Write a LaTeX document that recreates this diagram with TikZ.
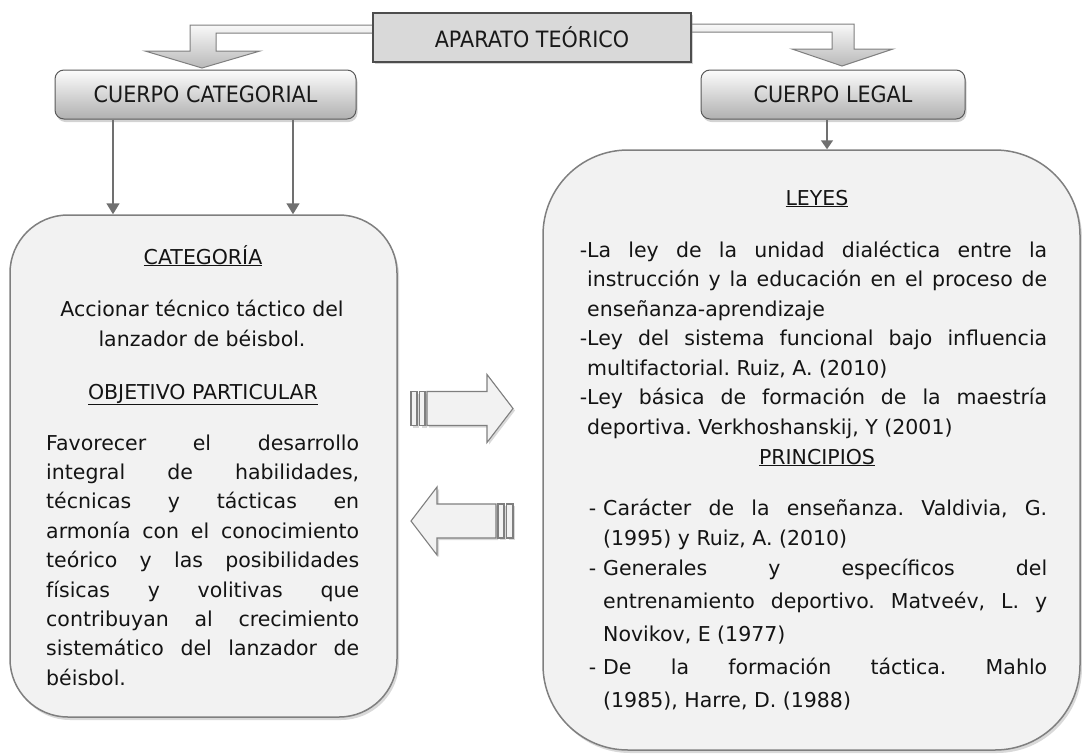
\documentclass[tikz,border=0pt]{standalone}
\usepackage{fontspec}
\setmainfont{DejaVu Sans}
\newfontfamily\titlefont[FakeStretch=0.92]{DejaVu Sans}
\usetikzlibrary{shadows,arrows.meta,calc}
\frenchspacing
\definecolor{boxfill}{HTML}{F2F2F2}
\definecolor{boxline}{HTML}{7F7F7F}
\definecolor{txt}{HTML}{141414}
\definecolor{apfill}{HTML}{D9D9D9}
\definecolor{apline}{HTML}{4D4D4D}
\definecolor{arrowgray}{HTML}{707070}
\tikzset{
 bodytext/.style={inner sep=0pt, text=txt, font=\fontsize{20.5}{29.4}\selectfont},
 titletext/.style={font=\titlefont\fontsize{22.5}{27}\selectfont, text=black!90},
 aparatobox/.style={draw=apline, line width=1.2pt, fill=apfill, minimum width=318pt, minimum height=49pt, inner sep=0pt, drop shadow={opacity=0.35, shadow xshift=2pt, shadow yshift=-2pt}},
 cuerpobox/.style={draw=gray!70!black, line width=1pt, rounded corners=9pt, top color=gray!2, bottom color=gray!62, minimum height=49pt, inner sep=0pt, drop shadow={opacity=0.35, shadow xshift=1.5pt, shadow yshift=-3pt}},
 bigbox/.style={draw=boxline, line width=1.5pt, fill=boxfill, inner sep=0pt, drop shadow={opacity=0.3, shadow xshift=2pt, shadow yshift=-3pt}},
 downarrow/.style={draw=arrowgray, line width=1.6pt, -{Triangle[width=13pt,length=11pt]}},
 bentarrow/.style={draw=boxline, line width=1pt, top color=gray!5, bottom color=gray!55},
 blockarrow/.style={draw=boxline, line width=1.1pt, fill=boxfill, drop shadow={opacity=0.3, shadow xshift=2pt, shadow yshift=-2pt}},
}
\begin{document}
\begin{tikzpicture}[x=1pt,y=-1pt]
\useasboundingbox (0,0) rectangle (1082,753);

% big boxes
\node[bigbox, rounded corners=58pt, minimum width=387pt, minimum height=502pt] (leftbox) at (203.5,466) {};
\node[bigbox, rounded corners=85pt, minimum width=537pt, minimum height=600pt] (rightbox) at (811.5,450) {};

% header box reference points
\coordinate (apL) at (373,37.5);
\coordinate (apR) at (691,37.5);

% bent arrows
\draw[bentarrow] (apL |- 0,25) -- (190,25) -- (190,51) -- (145,51) -- (202,68) -- (260,51) -- (216,51) -- (216,33) -- (apL |- 0,33) -- cycle;
\draw[bentarrow] (apR |- 0,24) -- (854,24) -- (854,49) -- (893,49) -- (842,66) -- (792,49) -- (832,49) -- (832,32) -- (apR |- 0,32) -- cycle;

\node[aparatobox, titletext] (aparato) at (532,37.5) {APARATO TEÓRICO};
\node[cuerpobox, titletext, minimum width=301pt] (cat) at (205.5,94.5) {CUERPO CATEGORIAL};
\node[cuerpobox, titletext, minimum width=264pt] (legal) at (833,94.5) {CUERPO LEGAL};

% down arrows
\coordinate (xa) at (113,0);
\coordinate (xb) at (293,0);
\coordinate (xc) at (827,0);
\draw[downarrow] (cat.south -| xa) -- (leftbox.north -| xa);
\draw[downarrow] (cat.south -| xb) -- (leftbox.north -| xb);
\draw[downarrow, -{Triangle[width=12pt,length=9pt]}] (legal.south -| xc) -- (rightbox.north -| xc);

% block arrows between boxes
\draw[blockarrow] (427,391.5) -- (487,391.5) -- (487,374.5) -- (513,408.5) -- (487,442.5) -- (487,425.5) -- (427,425.5) -- cycle;
\draw[blockarrow] (411,391.5) rectangle (417,425.5);
\draw[blockarrow] (419.5,391.5) rectangle (425,425.5);
\draw[blockarrow] (496,504) -- (437,504) -- (437,487) -- (411,521) -- (437,555) -- (437,538) -- (496,538) -- cycle;
\draw[blockarrow] (498,504) rectangle (504,538);
\draw[blockarrow] (506.5,504) rectangle (513,538);

% left box text
\node[bodytext, anchor=base] (tcat) at (203,264) {\underline{CATEGORÍA}};
\node[bodytext, anchor=base] (tacc1) at (202,316) {Accionar técnico táctico del};
\node[bodytext, anchor=base] (tacc2) at (202,346) {lanzador de béisbol.};
\node[bodytext, anchor=base] (tobj) at (203,399) {\underline{OBJETIVO PARTICULAR}};
\node[bodytext, anchor=base west] (p1) at (46,450) {\makebox[313pt][s]{Favorecer el desarrollo}};
\node[bodytext, anchor=base west] (p2) at (46,479.4) {\makebox[313pt][s]{integral de habilidades,}};
\node[bodytext, anchor=base west] (p3) at (46,508.8) {\makebox[313pt][s]{técnicas y tácticas en}};
\node[bodytext, anchor=base west] (p4) at (46,538.2) {\makebox[313pt][s]{armonía con el conocimiento}};
\node[bodytext, anchor=base west] (p5) at (46,567.6) {\makebox[313pt][s]{teórico y las posibilidades}};
\node[bodytext, anchor=base west] (p6) at (46,597) {\makebox[313pt][s]{físicas y volitivas que}};
\node[bodytext, anchor=base west] (p7) at (46,626.4) {\makebox[313pt][s]{contribuyan al crecimiento}};
\node[bodytext, anchor=base west] (p8) at (46,655.8) {\makebox[313pt][s]{sistemático del lanzador de}};
\node[bodytext, anchor=base west] (p9) at (46,685.2) {béisbol.};

% right box text
\node[bodytext, anchor=base] (tley) at (817,205) {\underline{LEYES}};
\node[bodytext, anchor=base west] (l1) at (587,257) {\llap{-}\makebox[460pt][s]{La ley de la unidad dialéctica entre la}};
\node[bodytext, anchor=base west] (l2) at (587,286.5) {\makebox[460pt][s]{instrucción y la educación en el proceso de}};
\node[bodytext, anchor=base west] (l3) at (587,316) {enseñanza-aprendizaje};
\node[bodytext, anchor=base west] (l4) at (587,345.5) {\llap{-}\makebox[460pt][s]{Ley del sistema funcional bajo influencia}};
\node[bodytext, anchor=base west] (l5) at (587,375) {multifactorial. Ruiz, A. (2010)};
\node[bodytext, anchor=base west] (l6) at (587,404.5) {\llap{-}\makebox[460pt][s]{Ley básica de formación de la maestría}};
\node[bodytext, anchor=base west] (l7) at (587,434) {deportiva. Verkhoshanskij, Y (2001)};
\node[bodytext, anchor=base] (tpri) at (817,464) {\underline{PRINCIPIOS}};
\node[bodytext, anchor=base west] (q1) at (603,515) {\llap{-\hspace{7pt}}\makebox[444pt][s]{Carácter de la enseñanza. Valdivia, G.}};
\node[bodytext, anchor=base west] (q2) at (603,545) {(1995) y Ruiz, A. (2010)};
\node[bodytext, anchor=base west] (q3) at (603,575) {\llap{-\hspace{7pt}}\makebox[444pt][s]{Generales y específicos del}};
\node[bodytext, anchor=base west] (q4) at (603,608) {\makebox[444pt][s]{entrenamiento deportivo. Matveév, L. y}};
\node[bodytext, anchor=base west] (q5) at (603,641) {Novikov, E (1977)};
\node[bodytext, anchor=base west] (q6) at (603,674) {\llap{-\hspace{7pt}}\makebox[444pt][s]{De la formación táctica. Mahlo}};
\node[bodytext, anchor=base west] (q7) at (603,707) {(1985), Harre, D. (1988)};
\end{tikzpicture}
\end{document}
